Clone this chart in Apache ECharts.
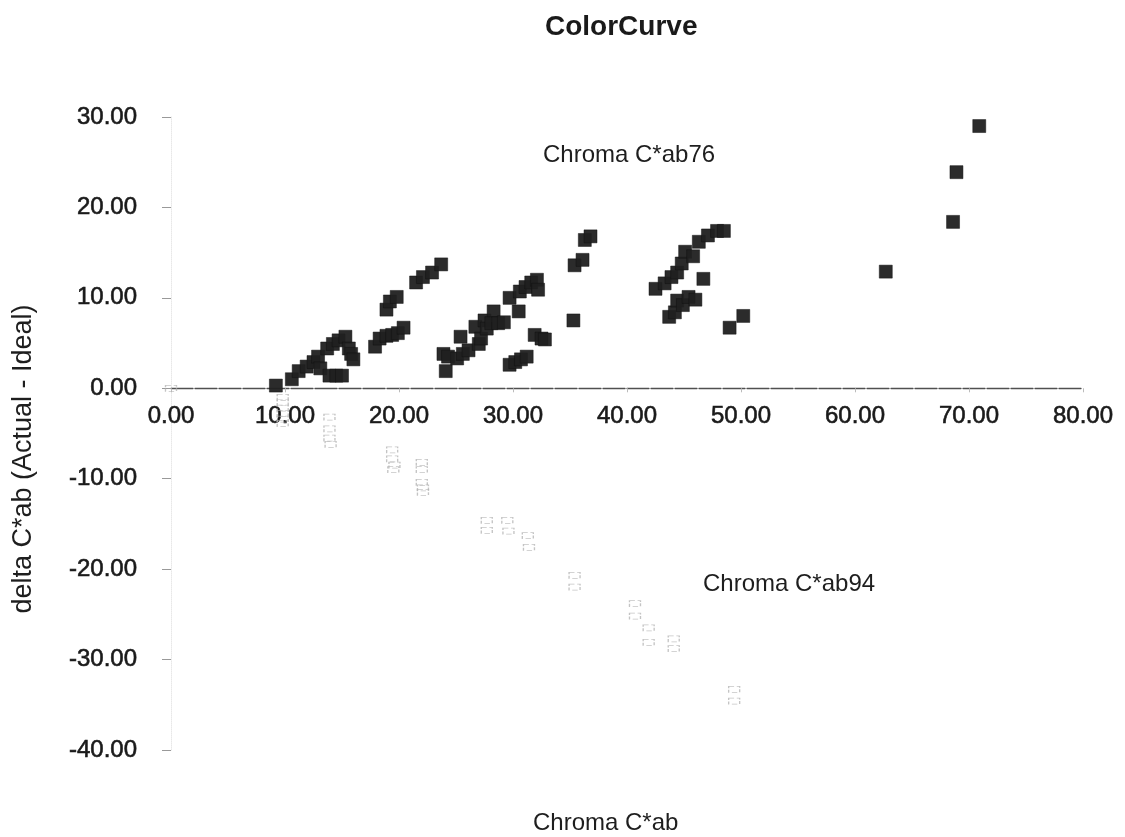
<!DOCTYPE html>
<html>
<head>
<meta charset="utf-8">
<script src="https://cdn.jsdelivr.net/npm/echarts@6/dist/echarts.min.js"></script>
<style>
html,body{margin:0;padding:0;background:#fff;}
#chart{width:1125px;height:837px;}
</style>
</head>
<body>
<div id="chart"></div>
<script>
// Chroma C*ab76 (filled squares): [chroma, delta]
var ab76 = [
  [9.2,0.3],[10.6,1.0],[11.2,1.9],[11.9,2.4],[12.5,2.9],[12.9,3.5],[13.1,2.2],
  [13.7,4.4],[14.2,4.9],[14.7,5.3],[15.3,5.7],[13.9,1.4],[14.5,1.4],[15.0,1.4],
  [15.6,4.4],[15.8,3.8],[16.0,3.2],[17.9,4.6],[18.3,5.5],[18.9,5.8],[19.4,5.9],
  [19.9,6.1],[20.4,6.7],[18.9,8.7],[19.2,9.6],[19.8,10.1],[21.5,11.7],[22.1,12.3],
  [22.9,12.8],[23.7,13.7],[23.9,3.8],[24.1,1.9],[24.3,3.5],[25.1,3.3],[25.4,5.7],
  [25.6,3.8],[26.1,4.2],[26.7,6.8],[27.0,4.9],[27.2,5.5],[27.5,7.5],[27.7,6.6],
  [28.3,8.5],[28.1,7.2],[28.7,7.2],[29.2,7.3],[29.7,10.0],[30.5,8.5],[30.6,10.7],
  [31.1,11.2],[31.6,11.7],[32.1,12.0],[32.2,10.9],[29.7,2.6],[30.2,2.9],[30.7,3.2],
  [31.2,3.5],[31.9,5.9],[32.5,5.5],[32.8,5.4],[35.3,7.5],[35.4,13.6],[36.1,14.2],
  [36.3,16.4],[36.8,16.8],[42.5,11.0],[43.3,11.6],[43.9,12.3],[44.4,12.8],[44.8,13.8],
  [45.1,15.1],[45.8,14.6],[46.3,16.2],[47.1,16.9],[47.9,17.4],[48.5,17.4],[46.7,12.1],
  [43.7,7.9],[44.2,8.4],[44.4,9.7],[44.9,9.2],[45.4,10.1],[46.0,9.8],[49.0,6.7],
  [50.2,8.0],[62.7,12.9],[68.6,18.4],[68.9,23.9],[70.9,29.0]
];
// Chroma C*ab94 (faint hollow squares): [chroma, delta]
var ab94 = [
  [0.0,0.0],
  [9.8,-1.0],[9.8,-1.6],[9.8,-2.2],[9.8,-2.8],[9.8,-3.4],[9.8,-3.9],
  [13.9,-3.2],[13.9,-4.5],[13.9,-5.5],[14.0,-6.2],
  [19.4,-6.8],[19.4,-7.8],[19.6,-8.5],[19.5,-9.0],
  [22.0,-8.2],[22.0,-9.0],[22.0,-10.4],[22.1,-11.0],[22.1,-11.5],
  [27.7,-14.6],[27.7,-15.7],[29.5,-14.6],[29.6,-15.8],[31.3,-16.3],[31.4,-17.6],
  [35.4,-20.7],[35.4,-22.0],[40.7,-23.8],[40.7,-25.2],[41.9,-26.5],[41.9,-28.1],
  [44.1,-27.7],[44.1,-28.8],[49.4,-33.3],[49.4,-34.6]
];
var xTicks = [0,10,20,30,40,50,60,70,80];
var yTicks = [-40,-30,-20,-10,0,10,20,30];
var titleText = 'ColorCurve';
var xName = 'Chroma C*ab';
var yName = 'delta C*ab (Actual - Ideal)';
var label76 = 'Chroma C*ab76';
var label94 = 'Chroma C*ab94';

var FONT = '"Liberation Sans", Arial, Helvetica, sans-serif';
var GRID = {left:171, right:42, top:117, bottom:87};
var chart = echarts.init(document.getElementById('chart'), null, {renderer:'canvas'});
function buildOption(xOffset){
  return {
    backgroundColor:'#ffffff',
    animation:false,
    title:{
      text:titleText, left:540, top:8,
      textStyle:{fontFamily:FONT, fontWeight:'bold', fontSize:28, color:'#1a1a1a'}
    },
    grid:{left:GRID.left, right:GRID.right, top:GRID.top, bottom:GRID.bottom, containLabel:false},
    xAxis:{
      type:'value', min:xTicks[0], max:xTicks[xTicks.length-1], interval:10,
      position:'bottom', offset:xOffset,
      axisLine:{onZero:false, lineStyle:{color:'#505050', width:1.3, type:[22,2]}},
      axisTick:{show:true, length:4, lineStyle:{color:'#bbb'}},
      splitLine:{show:false},
      axisLabel:{
        margin:16, fontFamily:FONT, fontSize:24, color:'#1a1a1a',
        textBorderColor:'#1a1a1a', textBorderWidth:0.6,
        formatter:function(v){return v.toFixed(2);}
      }
    },
    yAxis:{
      type:'value', min:yTicks[0], max:yTicks[yTicks.length-1], interval:10,
      axisLine:{show:true, onZero:false, lineStyle:{color:'#e8e8e8', width:1, type:'dotted'}},
      axisTick:{show:true, inside:false, length:9, lineStyle:{color:'#999', width:1}},
      splitLine:{show:false},
      axisLabel:{
        margin:34, fontFamily:FONT, fontSize:24, color:'#1a1a1a',
        textBorderColor:'#1a1a1a', textBorderWidth:0.6,
        formatter:function(v){return v.toFixed(2);}
      }
    },
    series:[
      {
        name:label94, type:'scatter', data:ab94,
        symbol:'rect', symbolSize:[11,6],
        itemStyle:{color:'rgba(255,255,255,0)', borderColor:'#b5b5b5', borderWidth:1, borderType:'dashed'},
        z:2
      },
      {
        name:label76, type:'scatter', data:ab76,
        symbol:'rect', symbolSize:13,
        itemStyle:{color:'#202020', borderColor:'#111', borderWidth:0.5, opacity:0.95},
        z:3
      }
    ],
    graphic:[
      {type:'text', left:543, top:143,
        style:{text:label76, font:'24px '+FONT, fill:'#1e1e1e'}},
      {type:'text', left:703, top:572,
        style:{text:label94, font:'24px '+FONT, fill:'#1e1e1e'}},
      {type:'text', left:533, top:811,
        style:{text:xName, font:'24px '+FONT, fill:'#1e1e1e'}},
      {type:'text', x:24, y:459, rotation:Math.PI/2,
        style:{text:yName, font:'27px '+FONT, fill:'#1e1e1e', align:'center', verticalAlign:'middle'}}
    ]
  };
}
chart.setOption(buildOption(0));
// place the x axis (line + labels) on the zero line of the y scale
var zeroPx = chart.convertToPixel({yAxisIndex:0}, 0);
var bottomPx = chart.getHeight() - GRID.bottom;
chart.setOption(buildOption(zeroPx - bottomPx));
</script>
</body>
</html>
